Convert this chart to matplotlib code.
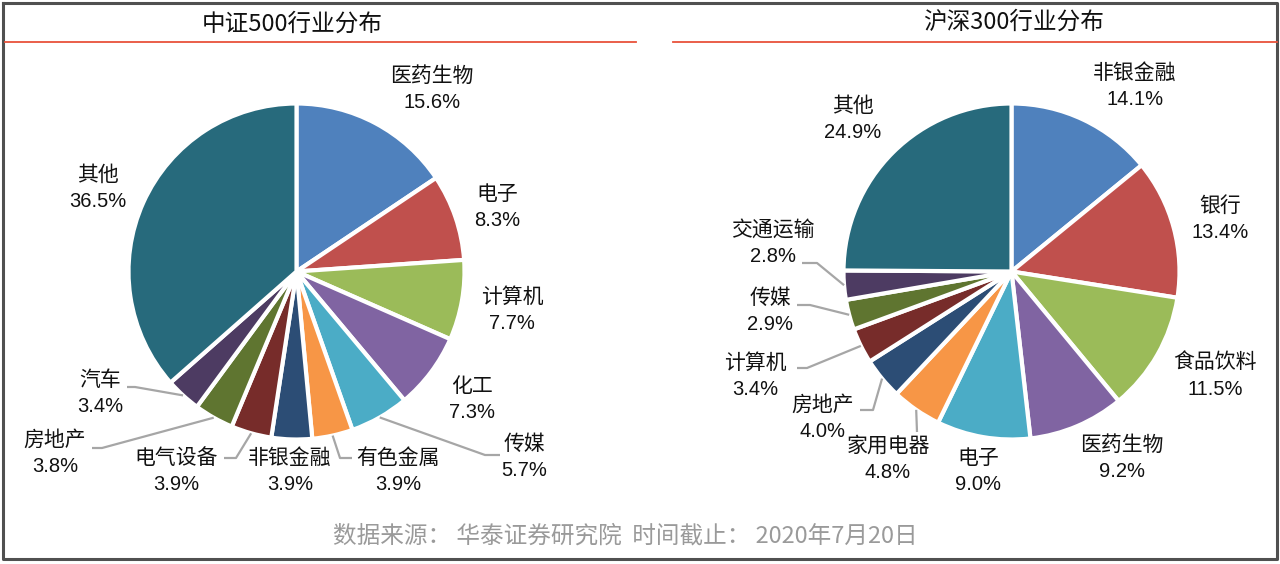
import matplotlib
matplotlib.use("Agg")
import matplotlib.pyplot as plt
import numpy as np

# ---------------- data ----------------
left_title = "中证500行业分布"
left_cats = ["医药生物", "电子", "计算机", "化工", "传媒", "有色金属",
             "非银金融", "电气设备", "房地产", "汽车", "其他"]
left_vals = [15.6, 8.3, 7.7, 7.3, 5.7, 3.9, 3.9, 3.9, 3.8, 3.4, 36.5]

right_title = "沪深300行业分布"
right_cats = ["非银金融", "银行", "食品饮料", "医药生物", "电子", "家用电器",
              "房地产", "计算机", "传媒", "交通运输", "其他"]
right_vals = [14.1, 13.4, 11.5, 9.2, 9.0, 4.8, 4.0, 3.4, 2.9, 2.8, 24.9]

source_text = "数据来源： 华泰证券研究院  时间截止： 2020年7月20日"

# ---------------- style ----------------
colors = ["#4F81BD", "#C0504D", "#9BBB59", "#8064A2", "#4BACC6", "#F79646",
          "#2C4D75", "#772C2A", "#5F7530", "#4D3B62", "#276A7C"]
CJK = ["Noto Sans CJK SC", "DejaVu Sans"]
LAT = ["Liberation Sans", "DejaVu Sans"]
plt.rcParams['font.family'] = CJK

W, H = 1280, 564
fig = plt.figure(figsize=(12.8, 5.64), dpi=100)

# layout (pixel positions of label blocks, leader elbows)
left_layout = dict(cx=296.5, cy=271.5, R=168,
                   labels=[(432, 89), (497, 207), (512, 310), (472, 399), (524, 457),
                           (398, 471), (290, 471), (176, 471), (55, 453), (100, 393),
                           (98, 188)],
                   leaders={4: [(485, 455), (500, 455)],
                            5: [(340, 458), (352, 458)],
                            7: [(236, 458), (224, 458)],
                            8: [(102, 448), (92, 448)],
                            9: [(135, 387), (127, 387)]})
right_layout = dict(cx=1011.5, cy=271.5, R=168,
                    labels=[(1135, 86), (1220, 219), (1215, 376), (1122, 458), (978, 471),
                            (888, 459), (823, 418), (755, 376), (770, 311), (773, 243),
                            (853, 119)],
                    leaders={5: [(917, 432)],
                             6: [(873, 410), (860, 410)],
                             7: [(807, 368), (797, 368)],
                             8: [(810, 305), (797, 305)],
                             9: [(817, 263), (802, 263)]})


def draw_pie(vals, cats, lay):
    cx, cy, R = lay['cx'], lay['cy'], lay['R']
    ax = fig.add_axes([0, 0, 1, 1])
    ax.patch.set_alpha(0)
    wedges, _ = ax.pie(vals, colors=colors, startangle=90, counterclock=False,
                       radius=1.0, wedgeprops=dict(edgecolor="white", linewidth=3))
    ax.set_xlim(-cx / R, (W - cx) / R)
    ax.set_ylim(-(H - cy) / R, cy / R)
    ax.set_aspect('auto')
    ax.axis('off')

    def p2d(px, py):
        return (px - cx) / R, (cy - py) / R

    for i, (w, cat, v) in enumerate(zip(wedges, cats, vals)):
        lx, ly = lay['labels'][i]
        x, y = p2d(lx, ly - 13.5)
        ax.text(x, y, cat, ha='center', va='center', fontsize=15,
                family=CJK, color="#111111")
        x, y = p2d(lx, ly + 13.5)
        ax.text(x, y, f"{v:.1f}%", ha='center', va='center', fontsize=14.5,
                family=LAT, color="#111111")
        if i in lay['leaders']:
            mid = np.deg2rad((w.theta1 + w.theta2) / 2)
            xs = [np.cos(mid)]
            ys = [np.sin(mid)]
            for (px, py) in lay['leaders'][i]:
                dx, dy = p2d(px, py)
                xs.append(dx)
                ys.append(dy)
            ax.plot(xs, ys, color="#A6A6A6", lw=1.6, solid_capstyle='butt')
    return ax


draw_pie(left_vals, left_cats, left_layout)
draw_pie(right_vals, right_cats, right_layout)

# overlay in pixel coords for frame, titles, red rules, source
ov = fig.add_axes([0, 0, 1, 1])
ov.patch.set_alpha(0)
ov.set_xlim(0, W)
ov.set_ylim(H, 0)
ov.axis('off')
ov.plot([3, 1277, 1277, 3, 3], [3, 3, 559, 559, 3], color="#505050", lw=2.2)
ov.plot([5, 636], [42, 42], color="#E8523A", lw=1.3)
ov.plot([673, 1277], [42, 42], color="#E8523A", lw=1.3)
ov.text(292, 24, left_title, ha='center', va='center', fontsize=17, family=CJK,
        color="#111111")
ov.text(1014, 22, right_title, ha='center', va='center', fontsize=17, family=CJK,
        color="#111111")
ov.text(625, 536, source_text, ha='center', va='center', fontsize=17, family=CJK,
        color="#9A9A9A")

fig.savefig("out.png", dpi=100)
